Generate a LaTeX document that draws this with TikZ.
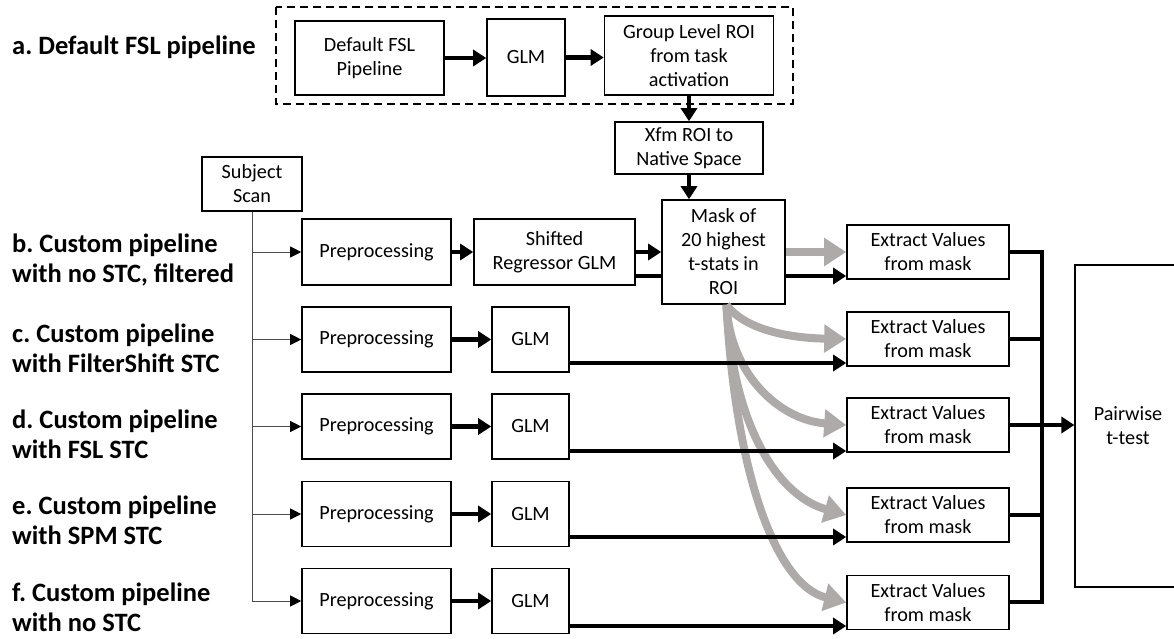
\documentclass[tikz,border=0pt]{standalone}
\usepackage{fontspec}
\setmainfont{Carlito}
\frenchspacing
\usetikzlibrary{arrows.meta}
\definecolor{grayarr}{RGB}{174,170,170}
\begin{document}
\begin{tikzpicture}[x=1pt,y=-1pt,
 box/.style={draw=black, line width=1.6pt, fill=white, inner sep=0pt, align=center, font=\fontsize{20.2}{24}\selectfont},
 lbl/.style={anchor=west, align=left, inner sep=0pt, font=\bfseries\fontsize{26.5}{30}\selectfont},
 thk/.style={line width=4.5pt, -{Triangle[length=13pt,width=16pt]}},
 thkline/.style={line width=4.5pt},
 thinline/.style={line width=0.9pt, draw=black!70},
 thn/.style={line width=0.9pt, draw=black!70, -{Triangle[length=11pt,width=11pt,color=black]}},
 gry/.style={line width=8pt, draw=grayarr, -{Triangle[length=22pt,width=27pt]}},
 bus/.style={line width=4.5pt, line join=miter},
 frame/.style={draw=black, line width=1.8pt, dash pattern=on 8pt off 5pt},
]
\useasboundingbox (0,0) rectangle (1174,638);

% labels
\node[lbl] (la) at (12,47) {a. Default FSL pipeline};
\node[lbl] (lb) at (12,260) {b. Custom pipeline\\with no STC, filtered};
\node[lbl] (lc) at (12,348) {c. Custom pipeline\\with FilterShift STC};
\node[lbl] (ld) at (12,434) {d. Custom pipeline\\with FSL STC};
\node[lbl] (le) at (12,520) {e. Custom pipeline\\with SPM STC};
\node[lbl] (lf) at (12,607) {f. Custom pipeline\\with no STC};

% default pipeline group
\draw[frame] (276,7) rectangle (793,104);
\node[box, minimum width=149pt, minimum height=74pt] (dflt) at (369.5,58) {Default FSL\\Pipeline};
\node[box, minimum width=78pt, minimum height=77pt] (glm0) at (526,57.5) {GLM};
\node[box, minimum width=169pt, minimum height=79pt] (grp) at (689,55.5) {Group Level ROI\\from task\\activation};
\node[box, minimum width=148pt, minimum height=52pt] (xfm) at (689,148) {Xfm ROI to\\Native Space};

% subject scan
\node[box, minimum width=100pt, minimum height=54pt] (subj) at (252,184) {Subject\\Scan};

% rows
\node[box, minimum width=149pt, minimum height=66pt] (preB) at (376.5,252) {Preprocessing};
\node[box, minimum width=149pt, minimum height=65pt] (preC) at (376.5,339.5) {Preprocessing};
\node[box, minimum width=149pt, minimum height=65pt] (preD) at (376.5,426.5) {Preprocessing};
\node[box, minimum width=149pt, minimum height=65pt] (preE) at (376.5,514) {Preprocessing};
\node[box, minimum width=149pt, minimum height=65pt] (preF) at (376.5,601) {Preprocessing};

\node[box, minimum width=161pt, minimum height=66pt] (shf) at (554.5,252) {Shifted\\Regressor GLM};
\node[box, minimum width=77pt, minimum height=65pt] (glmC) at (530.5,339.5) {GLM};
\node[box, minimum width=77pt, minimum height=65pt] (glmD) at (530.5,426.5) {GLM};
\node[box, minimum width=77pt, minimum height=65pt] (glmE) at (530.5,514) {GLM};
\node[box, minimum width=77pt, minimum height=65pt] (glmF) at (530.5,601) {GLM};

\node[box, minimum width=123pt, minimum height=104pt] (mask) at (723.5,252) {Mask of\\20 highest\\t-stats in\\ROI};

\node[box, minimum width=162pt, minimum height=54pt] (ex1) at (928,252) {Extract Values\\from mask};
\node[box, minimum width=162pt, minimum height=54pt] (ex2) at (928,339) {Extract Values\\from mask};
\node[box, minimum width=162pt, minimum height=54pt] (ex3) at (928,425) {Extract Values\\from mask};
\node[box, minimum width=162pt, minimum height=54pt] (ex4) at (928,515) {Extract Values\\from mask};
\node[box, minimum width=162pt, minimum height=54pt] (ex5) at (928,602.5) {Extract Values\\from mask};

\node[box, line width=1.2pt, minimum width=106pt, minimum height=322pt] (pw) at (1128,426) {Pairwise\\t-test};

% top pipeline arrows
\draw[thk] (dflt.east) -- (dflt.east -| glm0.west);
\draw[thk] (glm0.east) -- (glm0.east -| grp.west);
\draw[thk] (grp.south) -- (xfm.north);
\draw[thk] (xfm.south) -- (xfm.south |- mask.north);

% subject scan branches
\draw[thinline] (subj.south) -- (subj.south |- preF.west);
\draw[thn] (subj.south |- preB.west) -- (preB.west);
\draw[thn] (subj.south |- preC.west) -- (preC.west);
\draw[thn] (subj.south |- preD.west) -- (preD.west);
\draw[thn] (subj.south |- preE.west) -- (preE.west);
\draw[thn] (subj.south |- preF.west) -- (preF.west);

% preprocessing -> GLM
\draw[thk] (preB.east) -- (preB.east -| shf.west);
\draw[thk] (preC.east) -- (preC.east -| glmC.west);
\draw[thk] (preD.east) -- (preD.east -| glmD.west);
\draw[thk] (preE.east) -- (preE.east -| glmE.west);
\draw[thk] (preF.east) -- (preF.east -| glmF.west);

\draw[thk] (shf.east) -- (shf.east -| mask.west);

% gray mask arrows
\draw[gry] (mask.east) -- (ex1.west);
\draw[gry] ([xshift=3pt]mask.south) .. controls (745,330) and (790,338) .. (ex2.west);
\draw[gry] ([xshift=3pt]mask.south) .. controls (730,375) and (780,420) .. (ex3.west);
\draw[gry] ([xshift=3pt]mask.south) .. controls (732,420) and (775,495) .. (ex4.west);
\draw[gry] ([xshift=3pt]mask.south) .. controls (735,470) and (775,585) .. (ex5.west);

% black GLM -> extract
\draw[thkline] (shf.east |- 0,276) -- (mask.west |- 0,276);
\draw[thk] (mask.east |- 0,276) -- (ex1.west |- 0,276);
\draw[thk] (glmC.east |- 0,363) -- (ex2.west |- 0,363);
\draw[thk] (glmD.east |- 0,451) -- (ex3.west |- 0,451);
\draw[thk] (glmE.east |- 0,537) -- (ex4.west |- 0,537);
\draw[thk] (glmF.east |- 0,626) -- (ex5.west |- 0,626);

% bus
\coordinate (bt) at (1042,252);
\coordinate (bb) at (1042,602);
\draw[bus] (ex1.east) -- (bt) -- (bb) -- (ex5.east |- bb);
\draw[bus] (ex2.east) -- (ex2.east -| bt);
\draw[bus] (ex4.east) -- (ex4.east -| bt);
\draw[thk] (ex3.east) -- (ex3.east -| pw.west);
\end{tikzpicture}
\end{document}
